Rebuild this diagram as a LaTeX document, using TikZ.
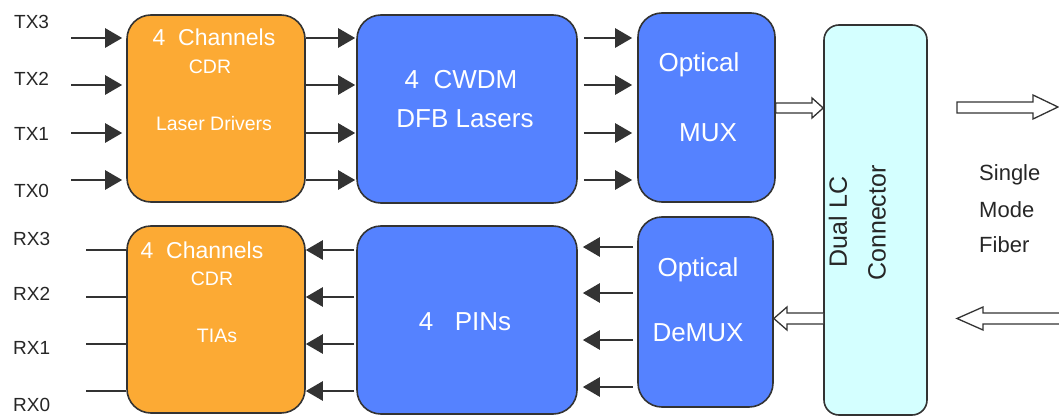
\documentclass[tikz,border=0pt]{standalone}
\usepackage{fontspec}
\setmainfont{Liberation Sans}
\usetikzlibrary{arrows.meta,calc}
\definecolor{boxorange}{RGB}{252,170,52}
\definecolor{boxblue}{RGB}{85,130,255}
\definecolor{boxcyan}{RGB}{212,255,255}
\definecolor{edge}{RGB}{51,51,51}
\tikzset{
  blk/.style={draw=edge, line width=1.6pt, rounded corners=24pt, inner sep=0pt},
  obox/.style={blk, fill=boxorange},
  bbox/.style={blk, fill=boxblue},
  wtxt/.style={text=white, inner sep=0pt, anchor=base},
  ltxt/.style={text=black!85, inner sep=0pt, anchor=west},
  arr/.style={draw=edge, line width=2.6pt, -{Triangle[length=17pt,width=19pt]}},
  plain/.style={draw=edge, line width=2.6pt},
  hollow/.style={draw=edge, line width=1.3pt, fill=white},
}
\newcommand{\fs}[1]{\fontsize{#1}{#1}\selectfont}
\begin{document}
\begin{tikzpicture}[x=1pt,y=-1pt]
\useasboundingbox (0,0) rectangle (1059,417);
% blocks
\node[obox, minimum width=178pt, minimum height=187pt] (otx) at (216,108.5) {};
\node[obox, minimum width=178pt, minimum height=187pt] (orx) at (216,319.5) {};
\node[bbox, minimum width=220pt, minimum height=188pt] (dfb) at (467,109) {};
\node[bbox, minimum width=220pt, minimum height=188pt] (pin) at (467,320) {};
\node[bbox, minimum width=137pt, minimum height=189pt] (mux) at (706.5,107.5) {};
\node[bbox, minimum width=135pt, minimum height=190pt] (dmx) at (705.5,312) {};
\node[blk, rounded corners=15pt, fill=boxcyan, minimum width=103pt, minimum height=390pt] (con) at (875.5,220) {};
% texts in blocks (base anchored)
\node[wtxt] (t1) at (214,46) {\fs{23}4\ \ Channels};
\node[wtxt] (t2) at (210,74) {\fs{19.5}CDR};
\node[wtxt] (t3) at (214,130) {\fs{19.5}Laser Drivers};
\node[wtxt] (t4) at (202,258) {\fs{23}4\ \ Channels};
\node[wtxt] (t5) at (212,285) {\fs{19.5}CDR};
\node[wtxt] (t6) at (217,342) {\fs{19.5}TIAs};
\node[wtxt] (t7) at (461,89) {\fs{26}4\ \ CWDM};
\node[wtxt] (t8) at (465,128) {\fs{26}DFB Lasers};
\node[wtxt] (t9) at (465,330) {\fs{26}4\ \ \ PINs};
\node[wtxt] (t10) at (699,71.5) {\fs{26}Optical};
\node[wtxt] (t11) at (708,141) {\fs{26}MUX};
\node[wtxt] (t12) at (698,276) {\fs{26}Optical};
\node[wtxt] (t13) at (698,341) {\fs{26}DeMUX};
\node[inner sep=0pt, rotate=90, text=black!85] (t14) at (838,222) {\fs{25}Dual LC};
\node[inner sep=0pt, rotate=90, text=black!85] (t15) at (877,223) {\fs{25}Connector};
\node[ltxt] (f1) at (979,175) {\fs{22}Single};
\node[ltxt] (f2) at (979,210) {\fs{22}Mode};
\node[ltxt] (f3) at (979,245) {\fs{22}Fiber};
% TX side
\foreach \y/\n/\ly in {38/3/22,85/2/79,133/1/134,180/0/191} {
  \node[ltxt] (txl\n) at (14,\ly) {\fs{19}TX\n};
  \coordinate (tx\n) at (71,\y);
  \draw[arr, shorten >=4pt] (tx\n) -- (tx\n -| otx.west);
  \draw[arr, shorten >=1pt] (tx\n -| otx.east) -- (tx\n -| dfb.west);
  \draw[arr, shorten <=6pt, shorten >=5pt] (tx\n -| dfb.east) -- (tx\n -| mux.west);
}
% RX side
\foreach \y/\n/\ly in {250/3/239,297/2/294,344/1/348,391/0/405} {
  \node[ltxt] (rxl\n) at (13,\ly) {\fs{19}RX\n};
  \coordinate (rx\n) at (86,\y);
  \draw[plain] (rx\n) -- (rx\n -| orx.west);
  \draw[arr, shorten <=2pt] (rx\n -| pin.west) -- (rx\n -| orx.east);
}
\foreach \y/\n in {247/a,293/b,340/c,387/d} {
  \coordinate (dm\n) at (633,\y);
  \draw[arr, shorten >=5pt] (dm\n) -- (dm\n -| pin.east);
}
% hollow arrows
\draw[hollow] (mux.east |- 0,103) -- (812,103) -- (812,98) -- (con.west |- 0,108) -- (812,118) -- (812,113) -- (mux.east |- 0,113) -- cycle;
\draw[hollow] (con.west |- 0,313) -- (787,313) -- (787,307) -- (dmx.east |- 0,318.5) -- (787,330) -- (787,324) -- (con.west |- 0,324);
\draw[hollow] (957,102) -- (1033,102) -- (1033,95) -- (1058,107) -- (1033,119) -- (1033,113) -- (957,113) -- cycle;
\draw[hollow] (1059.5,313) -- (983,313) -- (983,307) -- (957,318.5) -- (983,330) -- (983,324) -- (1059.5,324);
\end{tikzpicture}
\end{document}
